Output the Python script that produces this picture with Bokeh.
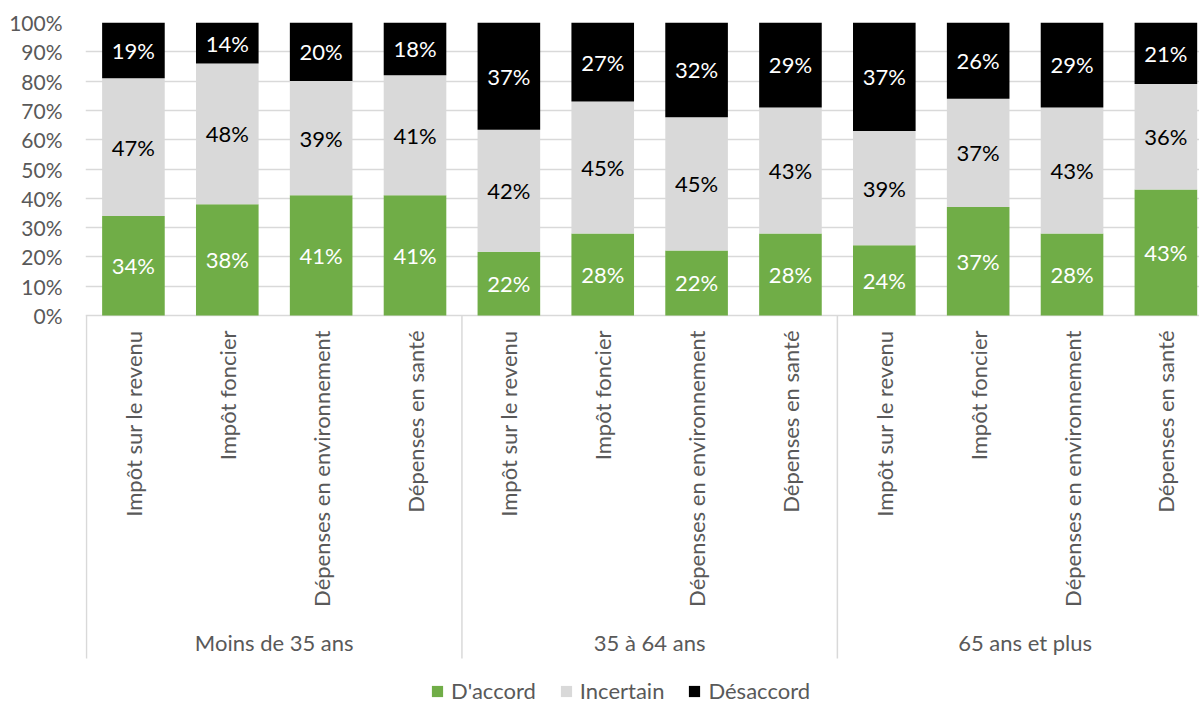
import numpy as np
from bokeh.plotting import figure
from bokeh.models import Range1d, FixedTicker, NumeralTickFormatter, ColumnDataSource, Legend, LegendItem
from bokeh.core.properties import value
from bokeh.embed import file_html
from bokeh.resources import INLINE

categories = ["Impôt sur le revenu", "Impôt foncier", "Dépenses en environnement", "Dépenses en santé"]
groups = ["Moins de 35 ans", "35 à 64 ans", "65 ans et plus"]
agree = [34, 38, 41, 41, 22, 28, 22, 28, 24, 37, 28, 43]
uncertain = [47, 48, 39, 41, 42, 45, 45, 43, 39, 37, 43, 36]
disagree = [19, 14, 20, 18, 37, 27, 32, 29, 37, 26, 29, 21]
series_names = ["D'accord", "Incertain", "Désaccord"]
y_ticks = [0, 0.1, 0.2, 0.3, 0.4, 0.5, 0.6, 0.7, 0.8, 0.9, 1.0]

GREEN, GREY, BLACK = "#70AD47", "#D9D9D9", "#000000"
TXT = "#595959"
FONT = "Lato"

n = len(agree)
x = np.arange(n)
a = np.array(agree, float); u = np.array(uncertain, float); d = np.array(disagree, float)
tot = a + u + d
pa, pu, pd = a / tot, u / tot, d / tot

FIG_W, FIG_H = 1199, 704
LEFT, TOP = 85, 22
px_per_unit = 93.86
px_per_y = 293.0
frame_w = FIG_W - LEFT
frame_h = FIG_H - TOP
x0 = -0.5 - 1 / px_per_unit
p = figure(width=FIG_W, height=FIG_H, output_backend="svg", toolbar_location=None,
           x_range=Range1d(x0, x0 + frame_w / px_per_unit),
           y_range=Range1d(1 - frame_h / px_per_y, 1.0),
           x_axis_type=None, min_border_left=LEFT, min_border_top=TOP,
           min_border_bottom=0, min_border_right=0, outline_line_color=None)
p.xgrid.visible = False
p.ygrid.ticker = FixedTicker(ticks=y_ticks)
p.ygrid.grid_line_color = "#D9D9D9"
p.ygrid.grid_line_width = 1.5
p.yaxis.ticker = FixedTicker(ticks=y_ticks)
p.yaxis.formatter = NumeralTickFormatter(format="0%")
p.yaxis.axis_line_color = None
p.yaxis.major_tick_line_color = None
p.yaxis.minor_tick_line_color = None
p.yaxis.major_label_text_font = FONT
p.yaxis.major_label_text_font_size = "21px"
p.yaxis.major_label_text_color = TXT
p.yaxis.major_label_standoff = 17

W = 0.667
r1 = p.vbar(x=x, bottom=0, top=pa, width=W, fill_color=GREEN, line_color=None)
r2 = p.vbar(x=x, bottom=pa, top=pa + pu, width=W, fill_color=GREY, line_color=None)
r3 = p.vbar(x=x, bottom=pa + pu, top=1.0, width=W, fill_color=BLACK, line_color=None)

for vals, mid, col in [(agree, pa / 2, "white"), (uncertain, pa + pu / 2, "black"), (disagree, pa + pu + pd / 2, "white")]:
    src = ColumnDataSource(dict(x=x, y=mid, t=[f"{v}%" for v in vals]))
    p.text(x="x", y="y", text="t", source=src, text_align="center", text_baseline="middle",
           text_color=col, text_font=value(FONT), text_font_size="22px")

# category labels (vertical)
cat_src = ColumnDataSource(dict(x=x, y=[-15 / px_per_y] * n, t=[categories[i % 4] for i in range(n)]))
p.text(x="x", y="y", text="t", source=cat_src, angle=np.pi / 2, text_align="right",
       text_baseline="middle", text_color=TXT, text_font=value(FONT), text_font_size="22px")

# group separators
sep_x = [-0.5, 3.5, 7.5, 11.5]
p.segment(x0=sep_x, y0=[0] * 4, x1=sep_x, y1=[-343 / px_per_y] * 4, line_color="#D9D9D9", line_width=1.5)

# group labels
g_src = ColumnDataSource(dict(x=[1.5, 5.5, 9.5], y=[-327 / px_per_y] * 3, t=groups))
p.text(x="x", y="y", text="t", source=g_src, text_align="center", text_baseline="middle",
       text_color=TXT, text_font=value(FONT), text_font_size="22px")

legend = Legend(items=[LegendItem(label=series_names[0], renderers=[r1]),
                       LegendItem(label=series_names[1], renderers=[r2]),
                       LegendItem(label=series_names[2], renderers=[r3])],
                orientation="horizontal", location=(345, 0), border_line_color=None,
                background_fill_alpha=0, padding=0, margin=0, glyph_width=14, glyph_height=14,
                label_text_font=FONT, label_text_font_size="22px", label_text_color=TXT,
                spacing=23, label_standoff=7)
p.add_layout(legend)

open("out.html", "w").write(file_html(p, INLINE))
